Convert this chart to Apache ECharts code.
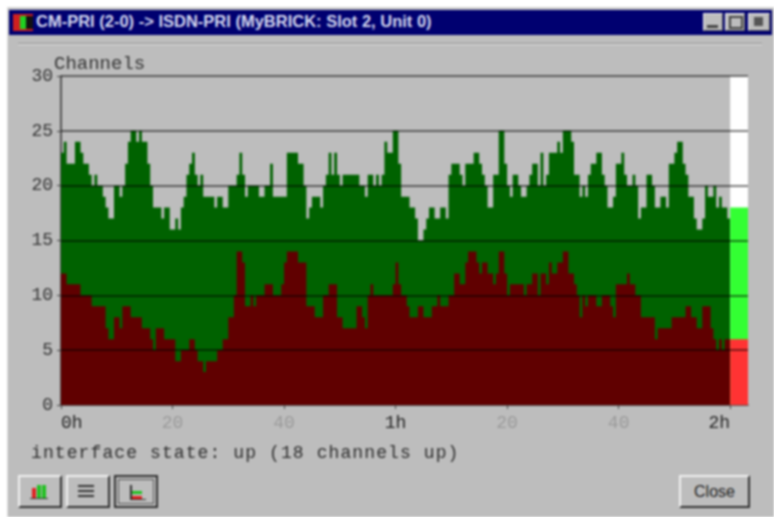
<!DOCTYPE html>
<html>
<head>
<meta charset="utf-8">
<title>CM-PRI channels</title>
<script src="https://cdn.jsdelivr.net/npm/echarts@6/dist/echarts.min.js"></script>
<style>
  html, body { margin: 0; padding: 0; background: #fff; overflow: hidden; }
  #page { position: relative; width: 774px; height: 517px; filter: blur(0.85px); overflow: hidden; }
  #win { position: absolute; left: 7px; top: 7px; width: 767px; height: 510px; background: #bdbdbd; border-top: 1px solid #ddd; border-left: 1px solid #ddd; box-sizing: border-box; }
  #titlebar { position: absolute; left: 9px; top: 10px; width: 763px; height: 25px; background: #000070; color: #d5d9f0;
    font: bold 16.5px/25px "Liberation Sans", sans-serif; white-space: nowrap; }
  #titlebar span { position: absolute; left: 27px; top: -1px; }
  .appicon { position: absolute; left: 4px; top: 4px; width: 20px; height: 17px; background: #d02020; }
  .appicon i { position: absolute; left: 7px; top: 2px; width: 6px; height: 13px; background: #20d020; }
  .appicon b { position: absolute; left: 13px; top: 2px; width: 7px; height: 13px; background: #111; }
  .wbtn { position: absolute; top: 3px; height: 18px; background: #bdbdbd; border: 1px solid; border-color: #eee #555 #555 #eee; box-sizing: border-box; }
  .wbtn i { position: absolute; display: block; }
  #sep { position: absolute; left: 18px; top: 43px; width: 744px; height: 1px; background: #8a8a8a; border-bottom: 1px solid #e6e6e6; }
  #chart { position: absolute; left: 0; top: 0; width: 774px; height: 517px; }
  #status { position: absolute; left: 31px; top: 443px; font: 18px/20px "Liberation Mono", monospace; letter-spacing: 1.1px; color: #2c2c2c; white-space: nowrap; }
  .btn { position: absolute; top: 475px; width: 44px; height: 33px; background: #bdbdbd; box-sizing: border-box; border: 2px solid; border-color: #f0f0f0 #303030 #303030 #f0f0f0; }
  .btn.on { border: 2px solid #303030; outline: 1px solid #555; outline-offset: -5px; }
  .btn i { position: absolute; display: block; }
  #close { position: absolute; left: 679px; top: 475px; width: 71px; height: 33px; background: #bdbdbd; box-sizing: border-box; border: 2px solid; border-color: #f0f0f0 #303030 #303030 #f0f0f0;
    font: 16px/29px "Liberation Sans", sans-serif; text-align: center; color: #222; }
</style>
</head>
<body>
<div id="page">
  <div id="win"></div>
  <div id="titlebar">
    <div class="appicon"><i></i><b></b></div>
    <span>CM-PRI (2-0) -&gt; ISDN-PRI (MyBRICK: Slot 2, Unit 0)</span>
    <div class="wbtn" style="left:694px;width:20px"><i style="left:3px;top:11px;width:11px;height:3px;background:#444"></i></div>
    <div class="wbtn" style="left:716px;width:20px"><i style="left:3px;top:2px;width:10px;height:9px;border:2px solid #444"></i></div>
    <div class="wbtn" style="left:739px;width:22px"><i style="left:5px;top:3px;width:9px;height:9px;background:#555"></i></div>
  </div>
  <div id="sep"></div>
  <div id="chart"></div>
  <div id="status">interface state: up (18 channels up)</div>
  <div class="btn" style="left:18px">
    <i style="left:12px;top:11px;width:4px;height:11px;background:#e02020"></i>
    <i style="left:17px;top:8px;width:4px;height:14px;background:#20c020"></i>
    <i style="left:22px;top:8px;width:4px;height:14px;background:#20c020"></i>
    <i style="left:10px;top:21px;width:18px;height:1px;background:#333"></i>
  </div>
  <div class="btn" style="left:66px">
    <i style="left:10px;top:8px;width:16px;height:2px;background:#333"></i>
    <i style="left:10px;top:13px;width:16px;height:2px;background:#333"></i>
    <i style="left:10px;top:18px;width:16px;height:2px;background:#333"></i>
  </div>
  <div class="btn on" style="left:114px">
    <i style="left:14px;top:8px;width:2px;height:15px;background:#333"></i>
    <i style="left:16px;top:14px;width:10px;height:3px;background:#20c020"></i>
    <i style="left:16px;top:19px;width:10px;height:3px;background:#e02020"></i>
    <i style="left:14px;top:22px;width:16px;height:1px;background:#333"></i>
  </div>
  <div id="close">Close</div>
</div>
<script>
// channels up per 30 s sample, 0h .. 2h
const channelsUp = [
  23,24,22,22,22,24,24,23,22,22, 21,20,21,20,20,19,18,17,17,20,
  20,19,20,22,24,25,25,24,25,24, 24,22,20,18,18,18,17,18,18,16,
  16,17,16,18,19,21,22,23,21,20, 21,19,19,19,19,18,19,19,18,18,
  20,20,20,21,23,21,19,20,20,20, 20,19,19,20,20,22,19,19,19,19,
  19,23,23,23,23,22,22,20,17,18, 19,19,19,18,20,21,23,21,23,21,
  20,21,21,21,21,21,21,20,20,19, 21,21,20,21,20,21,24,23,23,25,
  25,22,19,19,19,18,18,17,15,15, 16,17,18,18,17,17,18,18,17,21,
  22,22,22,21,20,22,22,22,23,23, 22,21,20,18,18,21,21,25,25,22,
  20,19,21,21,20,19,19,20,21,22, 22,20,23,20,21,23,23,23,24,23,
  25,25,25,24,21,21,19,20,19,21, 22,22,23,23,21,20,18,18,19,22,
  22,23,21,20,20,21,20,17,18,18, 21,21,20,18,18,19,19,18,22,22,
  23,24,24,22,21,19,19,17,16,16, 17,20,19,19,20,18,19,18,18,17
];
// channels in use over the same samples
const channelsInUse = [
  12,12,11,11,11,11,11,10,10,10, 10,9,9,9,9,9,7,6,6,8,
  8,7,9,9,9,8,8,8,8,7, 7,7,6,5,7,7,7,6,6,6,
  6,4,4,5,5,5,6,6,5,4, 4,3,4,4,4,4,5,5,6,6,
  8,8,10,14,14,13,9,9,10,9, 10,10,10,11,11,11,10,10,10,11,
  13,14,14,14,14,13,13,13,9,9, 9,8,8,8,10,10,11,11,11,8,
  8,7,7,7,7,7,9,9,8,7, 10,11,10,10,10,10,10,10,10,11,
  13,11,10,10,9,8,8,8,9,9, 8,8,8,9,9,10,9,9,9,10,
  10,12,12,11,11,13,14,14,14,13, 12,13,13,12,12,11,12,14,14,12,
  10,11,11,11,11,11,10,11,11,12, 12,10,12,12,11,13,12,12,13,13,
  14,14,12,12,11,10,8,10,9,10, 10,10,9,9,10,10,10,9,8,11,
  11,11,11,12,11,11,10,10,8,8, 8,8,8,6,7,7,7,7,7,8,
  8,8,8,8,9,9,8,8,7,7, 9,9,9,7,6,5,6,5,6,6
];
const sampleMinutes = 0.5;

// the "now" column right of 2h
const nowSpan = [120, 123.2];
const nowCapacity = 30;
const nowUp = 18;
const nowInUse = 6;

const yTickStep = 5;
const gridValues = [5, 10, 15, 20, 25, 30];
const xTickValues = [0, 20, 40, 60, 80, 100, 120];
const xTickLabels = ['0h', '20', '40', '1h', '20', '40', '2h'];
const xTickColors = ['#222', '#9a9a9a', '#9a9a9a', '#222', '#9a9a9a', '#9a9a9a', '#222'];

function toSteps(values) {
  const pts = values.map((v, i) => [i * sampleMinutes, v]);
  pts.push([values.length * sampleMinutes, values[values.length - 1]]);
  return pts;
}

function stepArea(name, data, color) {
  return {
    name: name,
    type: 'line',
    step: 'end',
    data: data,
    showSymbol: false,
    silent: true,
    animation: false,
    lineStyle: { width: 0 },
    areaStyle: { color: color, opacity: 1 }
  };
}

function nowColumn(name, value, color) {
  return stepArea(name, nowSpan.map(x => [x, value]), color);
}

const chart = echarts.init(document.getElementById('chart'), null, { renderer: 'canvas' });
const monoFont = '"Liberation Mono", monospace';

// grid lines sit on top of the marks here, so they go in as a markLine
const inUseNow = nowColumn('In use now', nowInUse, '#ff3333');
inUseNow.markLine = {
  silent: true,
  symbol: 'none',
  label: { show: false },
  animation: false,
  lineStyle: { type: 'solid', color: 'rgba(0,0,0,0.68)', width: 1.5 },
  data: gridValues.map(v => ({ yAxis: v }))
};

chart.setOption({
  animation: false,
  grid: { left: 61, top: 76, width: 687, height: 329, containLabel: false },
  xAxis: {
    type: 'value',
    min: 0,
    max: nowSpan[1],
    splitLine: { show: false },
    axisLine: { lineStyle: { color: '#333', width: 1.5 } },
    axisTick: { length: 4, customValues: xTickValues, lineStyle: { color: '#444' } },
    axisLabel: {
      customValues: xTickValues,
      fontFamily: monoFont,
      fontSize: 18,
      margin: 9,
      alignMinLabel: 'left',
      alignMaxLabel: 'right',
      color: (v, i) => xTickColors[i],
      formatter: v => xTickLabels[xTickValues.indexOf(v)]
    }
  },
  yAxis: {
    type: 'value',
    min: 0,
    max: nowCapacity,
    interval: yTickStep,
    name: 'Channels',
    nameLocation: 'end',
    nameGap: 3,
    nameMoveOverlap: false,
    nameTextStyle: { fontFamily: monoFont, fontSize: 19, color: '#333', align: 'left', verticalAlign: 'bottom', lineHeight: 19, padding: [0, 0, 0, -7] },
    axisLine: { show: true, lineStyle: { color: '#333', width: 1.5 } },
    axisTick: { show: true, length: 4, lineStyle: { color: '#444' } },
    axisLabel: { fontFamily: monoFont, fontSize: 18, margin: 8, color: '#333' },
    splitLine: { show: false }
  },
  series: [
    stepArea('Channels up', toSteps(channelsUp), '#006200'),
    stepArea('Channels in use', toSteps(channelsInUse), '#600000'),
    nowColumn('Free', nowCapacity, '#ffffff'),
    nowColumn('Up now', nowUp, '#33ff33'),
    inUseNow
  ]
});
</script>
</body>
</html>
